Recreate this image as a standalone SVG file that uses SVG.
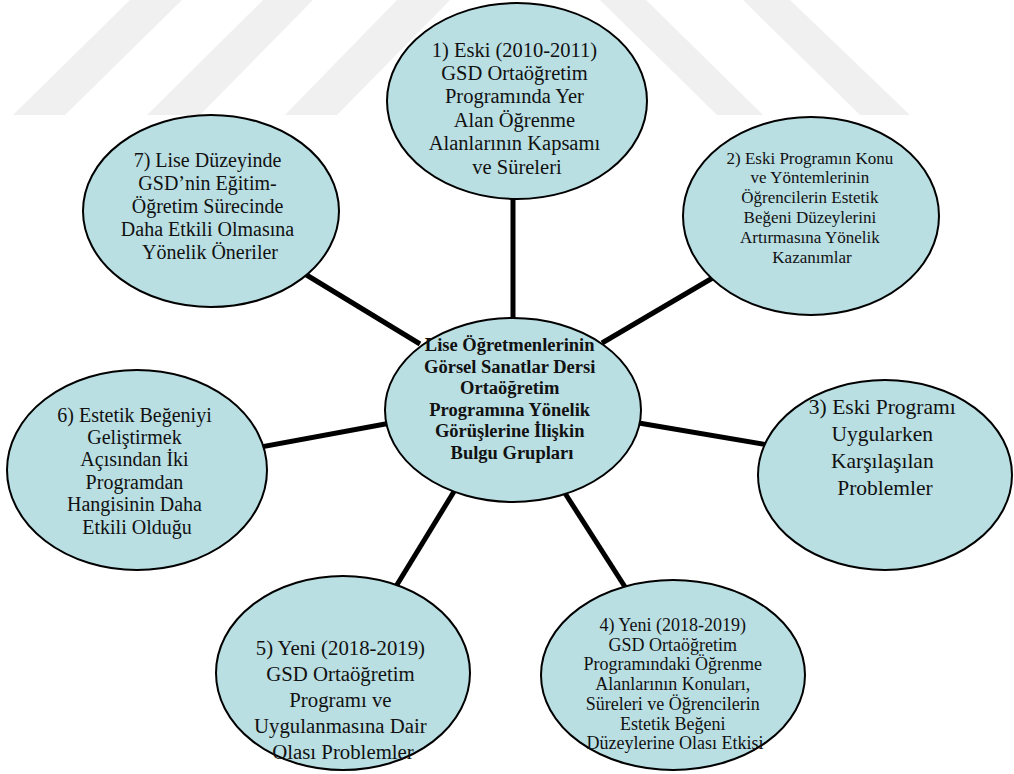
<svg xmlns="http://www.w3.org/2000/svg" width="1014" height="774" viewBox="0 0 1014 774">
<style>
.wm{fill:#f0f0f0}
.node{fill:#b9dfe3;stroke:#000;stroke-width:2}
.conn{stroke:#000;stroke-width:5;stroke-linecap:butt}
text{font-family:"Liberation Serif","Times New Roman",serif;fill:#111;text-anchor:middle}
.b{font-weight:bold}
</style>
<rect width="1014" height="774" fill="#fff"/>
<g id="watermark">
<polygon class="wm" points="13,115 65,115 182,0 130,0"/>
<polygon class="wm" points="147,115 200,115 313,0 263,0"/>
<polygon class="wm" points="285,115 337,115 450,0 397,0"/>
<polygon class="wm" points="600,0 646,0 763,115 717,115"/>
<polygon class="wm" points="743,0 790,0 910,115 860,115"/>
</g>
<g id="connectors">
<line class="conn" x1="513" y1="190" x2="513" y2="330"/>
<line class="conn" x1="602" y1="343" x2="721" y2="273"/>
<line class="conn" x1="300" y1="271" x2="420" y2="344"/>
<line class="conn" x1="250" y1="449" x2="396" y2="422"/>
<line class="conn" x1="627" y1="421" x2="768" y2="445"/>
<line class="conn" x1="458" y1="485" x2="395" y2="588"/>
<line class="conn" x1="561" y1="487" x2="627" y2="590"/>
</g>
<g id="node1">
<ellipse class="node" cx="517" cy="101" rx="130" ry="98"/>
<text font-size="20.5">
<tspan x="517" y="56.5">1) Eski (2010-2011)</tspan>
<tspan x="517" y="80">GSD Ortaöğretim</tspan>
<tspan x="517" y="103.3">Programında Yer</tspan>
<tspan x="517" y="126.7">Alan Öğrenme</tspan>
<tspan x="517" y="150.1">Alanlarının Kapsamı</tspan>
<tspan x="517" y="173.5">ve Süreleri</tspan>
</text>
</g>
<g id="node2">
<ellipse class="node" cx="811" cy="216" rx="128" ry="99"/>
<text font-size="17">
<tspan x="812" y="163.5">2) Eski Programın Konu</tspan>
<tspan x="812" y="183.3">ve Yöntemlerinin</tspan>
<tspan x="812" y="203.1">Öğrencilerin Estetik</tspan>
<tspan x="812" y="222.9">Beğeni Düzeylerini</tspan>
<tspan x="812" y="242.7">Artırmasına Yönelik</tspan>
<tspan x="812" y="262.5">Kazanımlar</tspan>
</text>
</g>
<g id="node3">
<ellipse class="node" cx="885" cy="475" rx="127" ry="95"/>
<text font-size="21.5">
<tspan x="885" y="414">3) Eski Programı</tspan>
<tspan x="885" y="441">Uygularken</tspan>
<tspan x="885" y="468">Karşılaşılan</tspan>
<tspan x="885" y="495">Problemler</tspan>
</text>
</g>
<g id="node4">
<ellipse class="node" cx="673" cy="675" rx="132" ry="95"/>
<text font-size="18">
<tspan x="675" y="631">4) Yeni (2018-2019)</tspan>
<tspan x="675" y="650.7">GSD Ortaöğretim</tspan>
<tspan x="675" y="670.4">Programındaki Öğrenme</tspan>
<tspan x="675" y="690.1">Alanlarının Konuları,</tspan>
<tspan x="675" y="709.8">Süreleri ve Öğrencilerin</tspan>
<tspan x="675" y="729.5">Estetik Beğeni</tspan>
<tspan x="675" y="749.2">Düzeylerine Olası Etkisi</tspan>
</text>
</g>
<g id="node5">
<ellipse class="node" cx="343" cy="673" rx="127" ry="97"/>
<text font-size="20.8">
<tspan x="343" y="655">5) Yeni (2018-2019)</tspan>
<tspan x="343" y="681">GSD Ortaöğretim</tspan>
<tspan x="343" y="707">Programı ve</tspan>
<tspan x="343" y="733">Uygulanmasına Dair</tspan>
<tspan x="343" y="759">Olası Problemler</tspan>
</text>
</g>
<g id="node6">
<ellipse class="node" cx="137" cy="470" rx="130" ry="100"/>
<text font-size="20">
<tspan x="137" y="421.5">6) Estetik Beğeniyi</tspan>
<tspan x="137" y="443.9">Geliştirmek</tspan>
<tspan x="137" y="466.3">Açısından İki</tspan>
<tspan x="137" y="488.7">Programdan</tspan>
<tspan x="137" y="511.1">Hangisinin Daha</tspan>
<tspan x="137" y="533.5">Etkili Olduğu</tspan>
</text>
</g>
<g id="node7">
<ellipse class="node" cx="211" cy="211" rx="128" ry="96"/>
<text font-size="20">
<tspan x="210" y="166.5">7) Lise Düzeyinde</tspan>
<tspan x="210" y="189.5">GSD’nin Eğitim-</tspan>
<tspan x="210" y="212.5">Öğretim Sürecinde</tspan>
<tspan x="210" y="235.5">Daha Etkili Olmasına</tspan>
<tspan x="210" y="258.5">Yönelik Öneriler</tspan>
</text>
</g>
<g id="center">
<ellipse class="node" cx="513" cy="410" rx="128" ry="92"/>
<text class="b" font-size="18.5">
<tspan x="512" y="351">Lise Öğretmenlerinin</tspan>
<tspan x="512" y="372.6">Görsel Sanatlar Dersi</tspan>
<tspan x="512" y="394.2">Ortaöğretim</tspan>
<tspan x="512" y="415.8">Programına Yönelik</tspan>
<tspan x="512" y="437.4">Görüşlerine İlişkin</tspan>
<tspan x="512" y="459">Bulgu Grupları</tspan>
</text>
</g>
</svg>
